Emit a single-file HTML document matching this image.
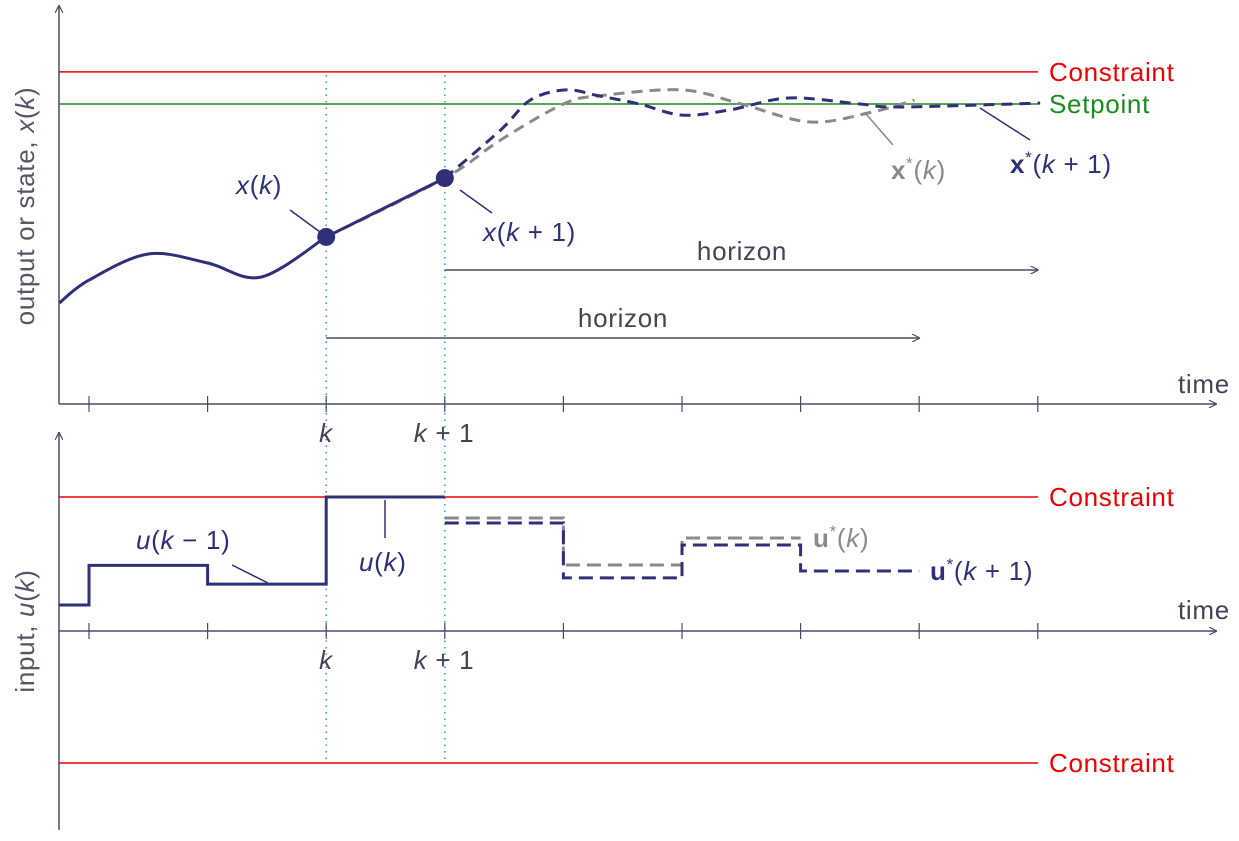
<!DOCTYPE html>
<html><head><meta charset="utf-8"><style>
html,body{margin:0;padding:0;background:#fff;}
svg{display:block;font-family:"Liberation Sans","DejaVu Sans",sans-serif;}
</style></head><body>
<svg id="c" width="1239" height="841" viewBox="0 0 1239 841"></svg>
<script>
// ---- data ----
const tickTimes = [0,1,2,3,4,5,6,7,8];
const pastT = [-0.25,0,0.5,1,1.45,2,3];
const pastX = [0.337,0.413,0.5,0.47,0.423,0.557,0.753];
const predKT = [2,3,3.47,4,4.3,5,5.5,6.08,6.6,6.96];
const predKX = [0.557,0.753,0.88,1.0,1.027,1.047,1.0,0.94,0.973,1.013];
const predK1T = [3,3.47,3.72,4.02,4.3,4.64,5,5.4,5.9,6.5,6.84,8.02];
const predK1X = [0.753,0.913,1.013,1.047,1.027,1.0,0.963,0.98,1.02,1.0,0.99,1.003];
const setpoint = 1.0, xConstraint = 1.107;
const pastUT = [-0.25,0,1,2,3];
const pastU = [0.194,0.49,0.35,1.0];
const uKT = [3,4,5,6];
const uK = [0.843,0.493,0.694];
const uK1T = [3,4,5,6,7];
const uK1 = [0.806,0.396,0.642,0.448];
const uMax = 1.0, uMin = -0.985;

// ---- scales ----
const tx = t => 89 + 118.6*t;
const yTop = v => 404 - 300*v;
const yBot = u => 631 - 134*u;

const NS="http://www.w3.org/2000/svg";
const svg=document.getElementById('c');
function mk(tag,attrs,parent){const e=document.createElementNS(NS,tag);for(const k in attrs)e.setAttribute(k,attrs[k]);(parent||svg).appendChild(e);return e;}
const AX="#4b4b68", NAVY="#2e3178", GRAY="#8a8a8a", RED="#f00000", GREEN="#1d8a1d";

function smooth(pts){
  let d="M"+pts[0][0]+","+pts[0][1];
  for(let i=0;i<pts.length-1;i++){
    const p0=pts[Math.max(i-1,0)],p1=pts[i],p2=pts[i+1],p3=pts[Math.min(i+2,pts.length-1)];
    const c1=[p1[0]+(p2[0]-p0[0])/6,p1[1]+(p2[1]-p0[1])/6];
    const c2=[p2[0]-(p3[0]-p1[0])/6,p2[1]-(p3[1]-p1[1])/6];
    d+=" C"+c1+" "+c2+" "+p2;
  }
  return d;
}
function stairs(ts,vs,y){
  let d="M"+tx(ts[0])+","+y(vs[0]);
  for(let i=0;i<vs.length;i++){
    if(i>0)d+=" L"+tx(ts[i])+","+y(vs[i]);
    d+=" L"+tx(ts[i+1])+","+y(vs[i]);
  }
  return d;
}
function txt(s,x,y,attrs){const e=mk('text',Object.assign({x:x,y:y,'font-size':26,'letter-spacing':0.7},attrs||{}));e.innerHTML=s;return e;}
const it = s=>'<tspan font-style="italic">'+s+'</tspan>';

// arrow marker
const defs=mk('defs',{});
const m=mk('marker',{id:'ar',viewBox:'0 0 10 10',refX:9,refY:5,markerWidth:8,markerHeight:8,orient:'auto-start-reverse',markerUnits:'userSpaceOnUse'},defs);
mk('path',{d:'M0,0 L10,5 L0,10',fill:'none',stroke:AX,'stroke-width':1.5},m);

// dotted k lines
[2,3].forEach(t=>{
  const l=mk('line',{x1:tx(t),x2:tx(t),y1:75,y2:763,stroke:'#3a90c8','stroke-width':1.5,'stroke-dasharray':'1.5 5'});
  
  
});

// ===== TOP PLOT =====
let e;
e=mk('line',{x1:59,y1:404,x2:59,y2:6,stroke:AX,'stroke-width':1.5,'marker-end':'url(#ar)'});

e=mk('line',{x1:59,y1:404,x2:1216,y2:404,stroke:AX,'stroke-width':1.5,'marker-end':'url(#ar)'});

tickTimes.forEach(t=>{e=mk('line',{x1:tx(t),x2:tx(t),y1:396,y2:412,stroke:AX,'stroke-width':1.2});
  });
e=mk('line',{x1:59,x2:1038,y1:yTop(xConstraint),y2:yTop(xConstraint),stroke:RED,'stroke-width':1.5});

e=mk('line',{x1:59,x2:1038,y1:yTop(setpoint),y2:yTop(setpoint),stroke:GREEN,'stroke-width':1.5});

e=txt('Constraint',1049,yTop(xConstraint)+9,{fill:RED});
e=txt('Setpoint',1049,yTop(setpoint)+9,{fill:GREEN});

e=mk('path',{d:smooth(predKT.map((t,i)=>[tx(t),yTop(predKX[i])])),fill:'none',stroke:GRAY,'stroke-width':3,'stroke-dasharray':'11 7'});

e=mk('path',{d:smooth(predK1T.map((t,i)=>[tx(t),yTop(predK1X[i])])),fill:'none',stroke:NAVY,'stroke-width':3,'stroke-dasharray':'11 7'});

const pp=pastT.map((t,i)=>[tx(t),yTop(pastX[i])]);
e=mk('path',{d:smooth(pp.slice(0,6))+" L"+pp[6],fill:'none',stroke:NAVY,'stroke-width':3});

[5,6].forEach(i=>{e=mk('circle',{cx:pp[i][0],cy:pp[i][1],r:9,fill:NAVY});
  });

// leaders
[[290,210,320,232,NAVY],[460,190,492,213,NAVY],[866,114,893,145,GRAY],[980,108,1030,140,NAVY]].forEach(a=>{
  e=mk('line',{x1:a[0],y1:a[1],x2:a[2],y2:a[3],stroke:a[4],'stroke-width':1.5});
  });
e=txt(it('x')+'('+it('k')+')',236,194,{fill:NAVY});
e=txt(it('x')+'('+it('k')+' + 1)',483,241,{fill:NAVY});
e=txt('<tspan font-weight="bold">x</tspan><tspan font-size="17" dy="-10">*</tspan><tspan dy="10">(</tspan>'+it('k')+')',891,179,{fill:GRAY});

e=txt('<tspan font-weight="bold">x</tspan><tspan font-size="17" dy="-10">*</tspan><tspan dy="10">(</tspan>'+it('k')+' + 1)',1010,173,{fill:NAVY});


// horizons
e=mk('line',{x1:tx(3),y1:270,x2:tx(8),y2:270,stroke:AX,'stroke-width':1.5,'marker-end':'url(#ar)'});

e=txt('horizon',742,260,{fill:'#444455','text-anchor':'middle'});
e=mk('line',{x1:tx(2),y1:338,x2:tx(7),y2:338,stroke:AX,'stroke-width':1.5,'marker-end':'url(#ar)'});

e=txt('horizon',623,327,{fill:'#444455','text-anchor':'middle'});

e=txt('time',1178,393,{fill:'#444455'});
e=txt('output or state, '+it('x')+'('+it('k')+')',0,0,{fill:'#555566','text-anchor':'middle',transform:'translate(34,206) rotate(-90)'});

e=txt(it('k'),326,442,{fill:'#444455','text-anchor':'middle'});
e=txt(it('k')+' + 1',444,442,{fill:'#444455','text-anchor':'middle'});

// ===== BOTTOM PLOT =====
e=mk('line',{x1:59,y1:830,x2:59,y2:433,stroke:AX,'stroke-width':1.5,'marker-end':'url(#ar)'});

e=mk('line',{x1:59,y1:631,x2:1216,y2:631,stroke:AX,'stroke-width':1.5,'marker-end':'url(#ar)'});

tickTimes.forEach(t=>{e=mk('line',{x1:tx(t),x2:tx(t),y1:623,y2:639,stroke:AX,'stroke-width':1.2});
  });
[uMax,uMin].forEach((u,i)=>{
  e=mk('line',{x1:59,x2:1038,y1:yBot(u),y2:yBot(u),stroke:RED,'stroke-width':1.5});
  
  e=txt('Constraint',1049,yBot(u)+9,{fill:RED});
  
});
e=mk('path',{d:stairs(uKT,uK,yBot),fill:'none',stroke:GRAY,'stroke-width':3,'stroke-dasharray':'14 7'});

e=mk('path',{d:stairs(uK1T,uK1,yBot),fill:'none',stroke:NAVY,'stroke-width':3,'stroke-dasharray':'14 7'});

e=mk('path',{d:stairs(pastUT,pastU,yBot).replace(/^M[^ ]+/,'M59,'+yBot(pastU[0])),fill:'none',stroke:NAVY,'stroke-width':3});

[[232,565,268,583],[385,500,385,538]].forEach(a=>{
  e=mk('line',{x1:a[0],y1:a[1],x2:a[2],y2:a[3],stroke:NAVY,'stroke-width':1.5});
  });
e=txt(it('u')+'('+it('k')+' − 1)',136,549,{fill:NAVY});
e=txt(it('u')+'('+it('k')+')',359,571,{fill:NAVY});
e=txt('<tspan font-weight="bold">u</tspan><tspan font-size="17" dy="-10">*</tspan><tspan dy="10">(</tspan>'+it('k')+')',813,547,{fill:GRAY});

e=txt('<tspan font-weight="bold">u</tspan><tspan font-size="17" dy="-10">*</tspan><tspan dy="10">(</tspan>'+it('k')+' + 1)',930,580,{fill:NAVY});

e=txt('time',1178,619,{fill:'#444455'});
e=txt('input, '+it('u')+'('+it('k')+')',0,0,{fill:'#555566','text-anchor':'middle',transform:'translate(34,631) rotate(-90)'});

e=txt(it('k'),326,669,{fill:'#444455','text-anchor':'middle'});
e=txt(it('k')+' + 1',444,669,{fill:'#444455','text-anchor':'middle'});
</script>
</body></html>
